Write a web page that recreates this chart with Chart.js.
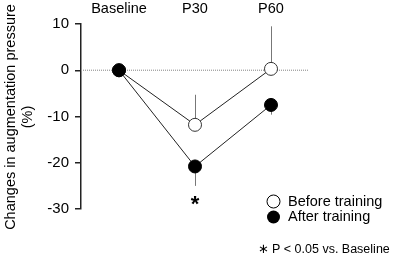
<!DOCTYPE html>
<html>
<head>
<meta charset="utf-8">
<script src="https://cdn.jsdelivr.net/npm/chart.js@4.4.0/dist/chart.umd.min.js"></script>
<style>
  html, body { margin: 0; padding: 0; background: #fff; }
  #wrap { width: 397px; height: 257px; }
</style>
</head>
<body>
<div id="wrap"><canvas id="augChart" width="397" height="257"></canvas></div>
<script>
// 시점 (x 위치 0,1,2)
var timepoints = ['Baseline', 'P30', 'P60'];
// 평균 변화량 (%)
var beforeTraining = [0, -11.8, 0.3];
var afterTraining = [0, -20.8, -7.5];
// 오차 막대 (before 는 위쪽, after 는 아래쪽)
var beforeError = [0, 6.5, 9.2];
var afterError = [0, 4.2, 2.1];
var yTicks = [10, 0, -10, -20, -30];

var font = 'Liberation Sans, Arial, sans-serif';

function toPoints(values) {
    return values.map(function(v, i) { return { x: i, y: v }; });
}

// 보조 그리기: 0 기준선, 오차 막대, 라벨, 범례
var extras = {
    id: 'extras',
    beforeDatasetsDraw: function(chart) {
        var ctx = chart.ctx, x = chart.scales.x, y = chart.scales.y;
        var y0 = y.getPixelForValue(0);
        ctx.save();
        ctx.strokeStyle = '#9a9a9a';
        ctx.lineWidth = 1.2;
        ctx.setLineDash([1, 1]);
        ctx.beginPath();
        ctx.moveTo(chart.chartArea.left, y0);
        ctx.lineTo(chart.chartArea.right, y0);
        ctx.stroke();
        ctx.setLineDash([]);

        // 오차 막대
        ctx.strokeStyle = '#777';
        ctx.lineWidth = 1;
        for (var i = 1; i < timepoints.length; i++) {
            var px = Math.round(x.getPixelForValue(i)) + 0.5;
            ctx.beginPath();
            ctx.moveTo(px, y.getPixelForValue(beforeTraining[i]));
            ctx.lineTo(px, y.getPixelForValue(beforeTraining[i] + beforeError[i]));
            ctx.stroke();
            ctx.beginPath();
            ctx.moveTo(px, y.getPixelForValue(afterTraining[i]));
            ctx.lineTo(px, y.getPixelForValue(afterTraining[i] - afterError[i]));
            ctx.stroke();
        }
        ctx.restore();
    },
    afterDraw: function(chart) {
        var ctx = chart.ctx, x = chart.scales.x, y = chart.scales.y;
        ctx.save();
        ctx.fillStyle = '#000';

        // 상단 시점 라벨
        ctx.font = '14.5px ' + font;
        ctx.textAlign = 'center';
        ctx.textBaseline = 'middle';
        timepoints.forEach(function(t, i) {
            ctx.fillText(t, x.getPixelForValue(i), 9);
        });

        // 유의성 표시
        ctx.font = 'bold 22px ' + font;
        ctx.fillText('*', x.getPixelForValue(1), 205);

        // y 축 제목
        ctx.font = '14.5px ' + font;
        ctx.save();
        ctx.translate(11, 117);
        ctx.rotate(-Math.PI / 2);
        ctx.fillText('Changes in augmentation pressure', 0, 0);
        ctx.fillText('(%)', 0, 17);
        ctx.restore();

        // 범례
        ctx.textAlign = 'left';
        ctx.lineWidth = 1;
        ctx.strokeStyle = '#000';
        ctx.beginPath();
        ctx.arc(273.5, 201.5, 6.5, 0, Math.PI * 2);
        ctx.fillStyle = '#fff';
        ctx.fill();
        ctx.stroke();
        ctx.beginPath();
        ctx.arc(273.5, 217, 6.5, 0, Math.PI * 2);
        ctx.fillStyle = '#000';
        ctx.fill();
        ctx.font = '14.5px ' + font;
        ctx.fillText('Before training', 288, 202);
        ctx.fillText('After training', 288, 217);

        ctx.font = '12.5px ' + font;
        ctx.fillText('\u2217', 258, 250);
        ctx.fillText('P < 0.05 vs. Baseline', 272, 250);
        ctx.restore();
    }
};

var ctx = document.getElementById('augChart').getContext('2d');
var augChart = new Chart(ctx, {
    type: 'line',
    data: {
        datasets: [{
            label: 'Before training',
            data: toPoints(beforeTraining),
            borderColor: '#222',
            borderWidth: 1,
            pointRadius: 6.5,
            pointBackgroundColor: '#fff',
            pointBorderColor: '#333',
            pointBorderWidth: 1,
            order: 2
        }, {
            label: 'After training',
            data: toPoints(afterTraining),
            borderColor: '#222',
            borderWidth: 1,
            pointRadius: 6.5,
            pointBackgroundColor: '#000',
            pointBorderColor: '#000',
            pointBorderWidth: 1,
            order: 1
        }]
    },
    options: {
        responsive: false,
        animation: false,
        layout: { padding: { top: 24, bottom: 48, right: 88, left: 0 } },
        plugins: {
            legend: { display: false },
            tooltip: { enabled: false }
        },
        scales: {
            x: {
                type: 'linear',
                min: -0.5,
                max: 2.5,
                display: false
            },
            y: {
                min: -30,
                max: 10,
                afterBuildTicks: function(axis) {
                    axis.ticks = yTicks.map(function(v) { return { value: v }; });
                },
                afterFit: function(axis) { axis.width = 81; },
                border: { display: true, color: '#222', width: 1.5 },
                grid: {
                    drawOnChartArea: false,
                    drawTicks: true,
                    tickLength: 6,
                    color: '#222',
                    lineWidth: 1.5
                },
                ticks: {
                    color: '#000',
                    padding: 6,
                    font: { family: font, size: 15 }
                }
            }
        }
    },
    plugins: [extras]
});
</script>
</body>
</html>
